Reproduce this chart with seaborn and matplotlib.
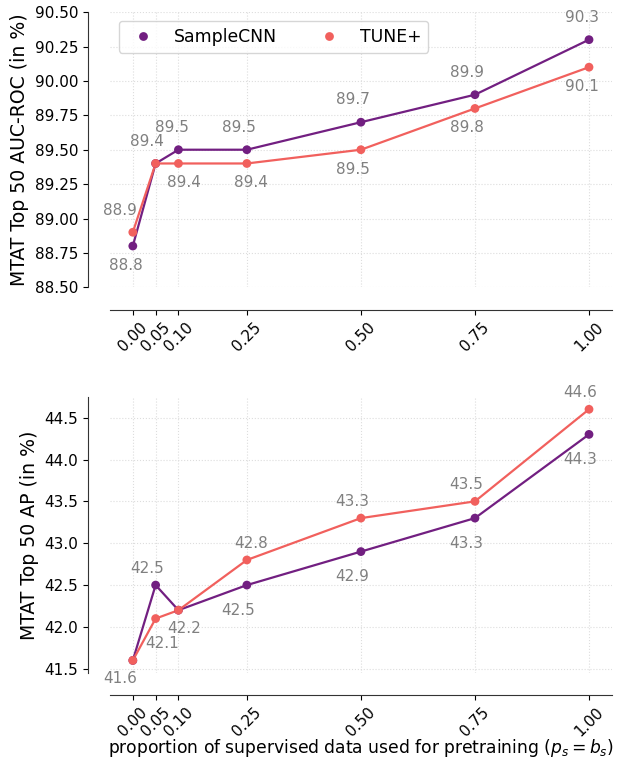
"""MTAT Top 50 results vs. proportion of supervised pretraining data."""

import matplotlib

matplotlib.use("Agg")
import matplotlib.pyplot as plt
import pandas as pd
import seaborn as sns

proportions = [0.0, 0.05, 0.10, 0.25, 0.50, 0.75, 1.00]
tick_labels = ["0.00", "0.05", "0.10", "0.25", "0.50", "0.75", "1.00"]
models = ["SampleCNN", "TUNE+"]

auc_samplecnn = [88.8, 89.4, 89.5, 89.5, 89.7, 89.9, 90.3]
auc_tune = [88.9, 89.4, 89.4, 89.4, 89.5, 89.8, 90.1]
ap_samplecnn = [41.6, 42.5, 42.2, 42.5, 42.9, 43.3, 44.3]
ap_tune = [41.6, 42.1, 42.2, 42.8, 43.3, 43.5, 44.6]

auc_yticks = [88.50, 88.75, 89.00, 89.25, 89.50, 89.75, 90.00, 90.25, 90.50]

# horizontal nudges (points) for the value labels, upper / lower label per x
top_dx_up = [-9, -6, -5, -6, -6, -5.5, -5]
top_dx_down = [-5, 0, 4, 3, -6, -5.5, -5]
bot_dx_up = [0, -6, 0, 3, -6, -6, -6]
bot_dx_down = [-9, 5, 4, -6, -6, -6, -6]


def to_long(vals_a, vals_b):
    return pd.DataFrame({
        "p": proportions * 2,
        "value": vals_a + vals_b,
        "model": [models[0]] * len(vals_a) + [models[1]] * len(vals_b),
    })


sns.set_style("ticks")
plt.rcParams["font.family"] = ["DejaVu Sans"]
plt.rcParams.update({
    "text.color": "black",
    "axes.labelcolor": "black",
    "xtick.color": "black",
    "ytick.color": "black",
    "axes.edgecolor": "#333333",
})
palette = sns.color_palette("magma", 2)

fig = plt.figure(figsize=(6.18, 7.6), dpi=100)
ax_top = fig.add_axes([0.178, 0.622, 0.812, 0.362])
ax_bot = fig.add_axes([0.178, 0.1145, 0.812, 0.3635])


def draw(ax, vals_a, vals_b, ylabel, up, down, tie, dx_up, dx_down):
    df = to_long(vals_a, vals_b)
    sns.lineplot(data=df, x="p", y="value", hue="model", palette=palette,
                 linewidth=1.6, legend=False, ax=ax)
    sns.scatterplot(data=df, x="p", y="value", hue="model", palette=palette,
                    s=40, edgecolor="none", ax=ax, zorder=3)
    # value labels: larger value above, smaller below, ties once
    for i, (x, a, b) in enumerate(zip(proportions, vals_a, vals_b)):
        if a == b:
            pts = [(a, dx_up[i] if tie > 0 else dx_down[i], tie)]
        else:
            pts = [(max(a, b), dx_up[i], up), (min(a, b), dx_down[i], down)]
        for v, dx, dy in pts:
            ax.annotate(f"{v:.1f}", (x, v), xytext=(dx, dy), textcoords="offset points",
                        ha="center", va="center", fontsize=11, color="grey")
    # despine first: moving spines resets tick label styling
    sns.despine(ax=ax, offset=16)
    ax.set_xticks(proportions)
    ax.set_xticklabels(tick_labels, rotation=45, fontsize=11)
    ax.tick_params(axis="y", labelsize=11)
    ax.set_ylabel(ylabel, fontsize=13.6)
    ax.set_xlabel("")
    ax.grid(True, linestyle=":", linewidth=0.8, color="#dddddd")


draw(ax_top, auc_samplecnn, auc_tune, "MTAT Top 50 AUC-ROC (in %)",
     16, -14, 16, top_dx_up, top_dx_down)
ax_top.set_ylim(88.5, 90.5)
ax_top.set_yticks(auc_yticks)
ax_top.set_yticklabels([f"{t:.2f}" for t in auc_yticks], fontsize=11)
ax_top.legend(loc="upper left", ncol=2, fontsize=12.4, title=None, frameon=True)

draw(ax_bot, ap_samplecnn, ap_tune, "MTAT Top 50 AP (in %)",
     12, -18, -13, bot_dx_up, bot_dx_down)
ax_bot.legend_.remove()
ax_bot.set_xlabel("proportion of supervised data used for pretraining ($p_s = b_s$)",
                  fontsize=12.3, labelpad=-2)

fig.savefig("out.png", dpi=100)
plt.close(fig)
